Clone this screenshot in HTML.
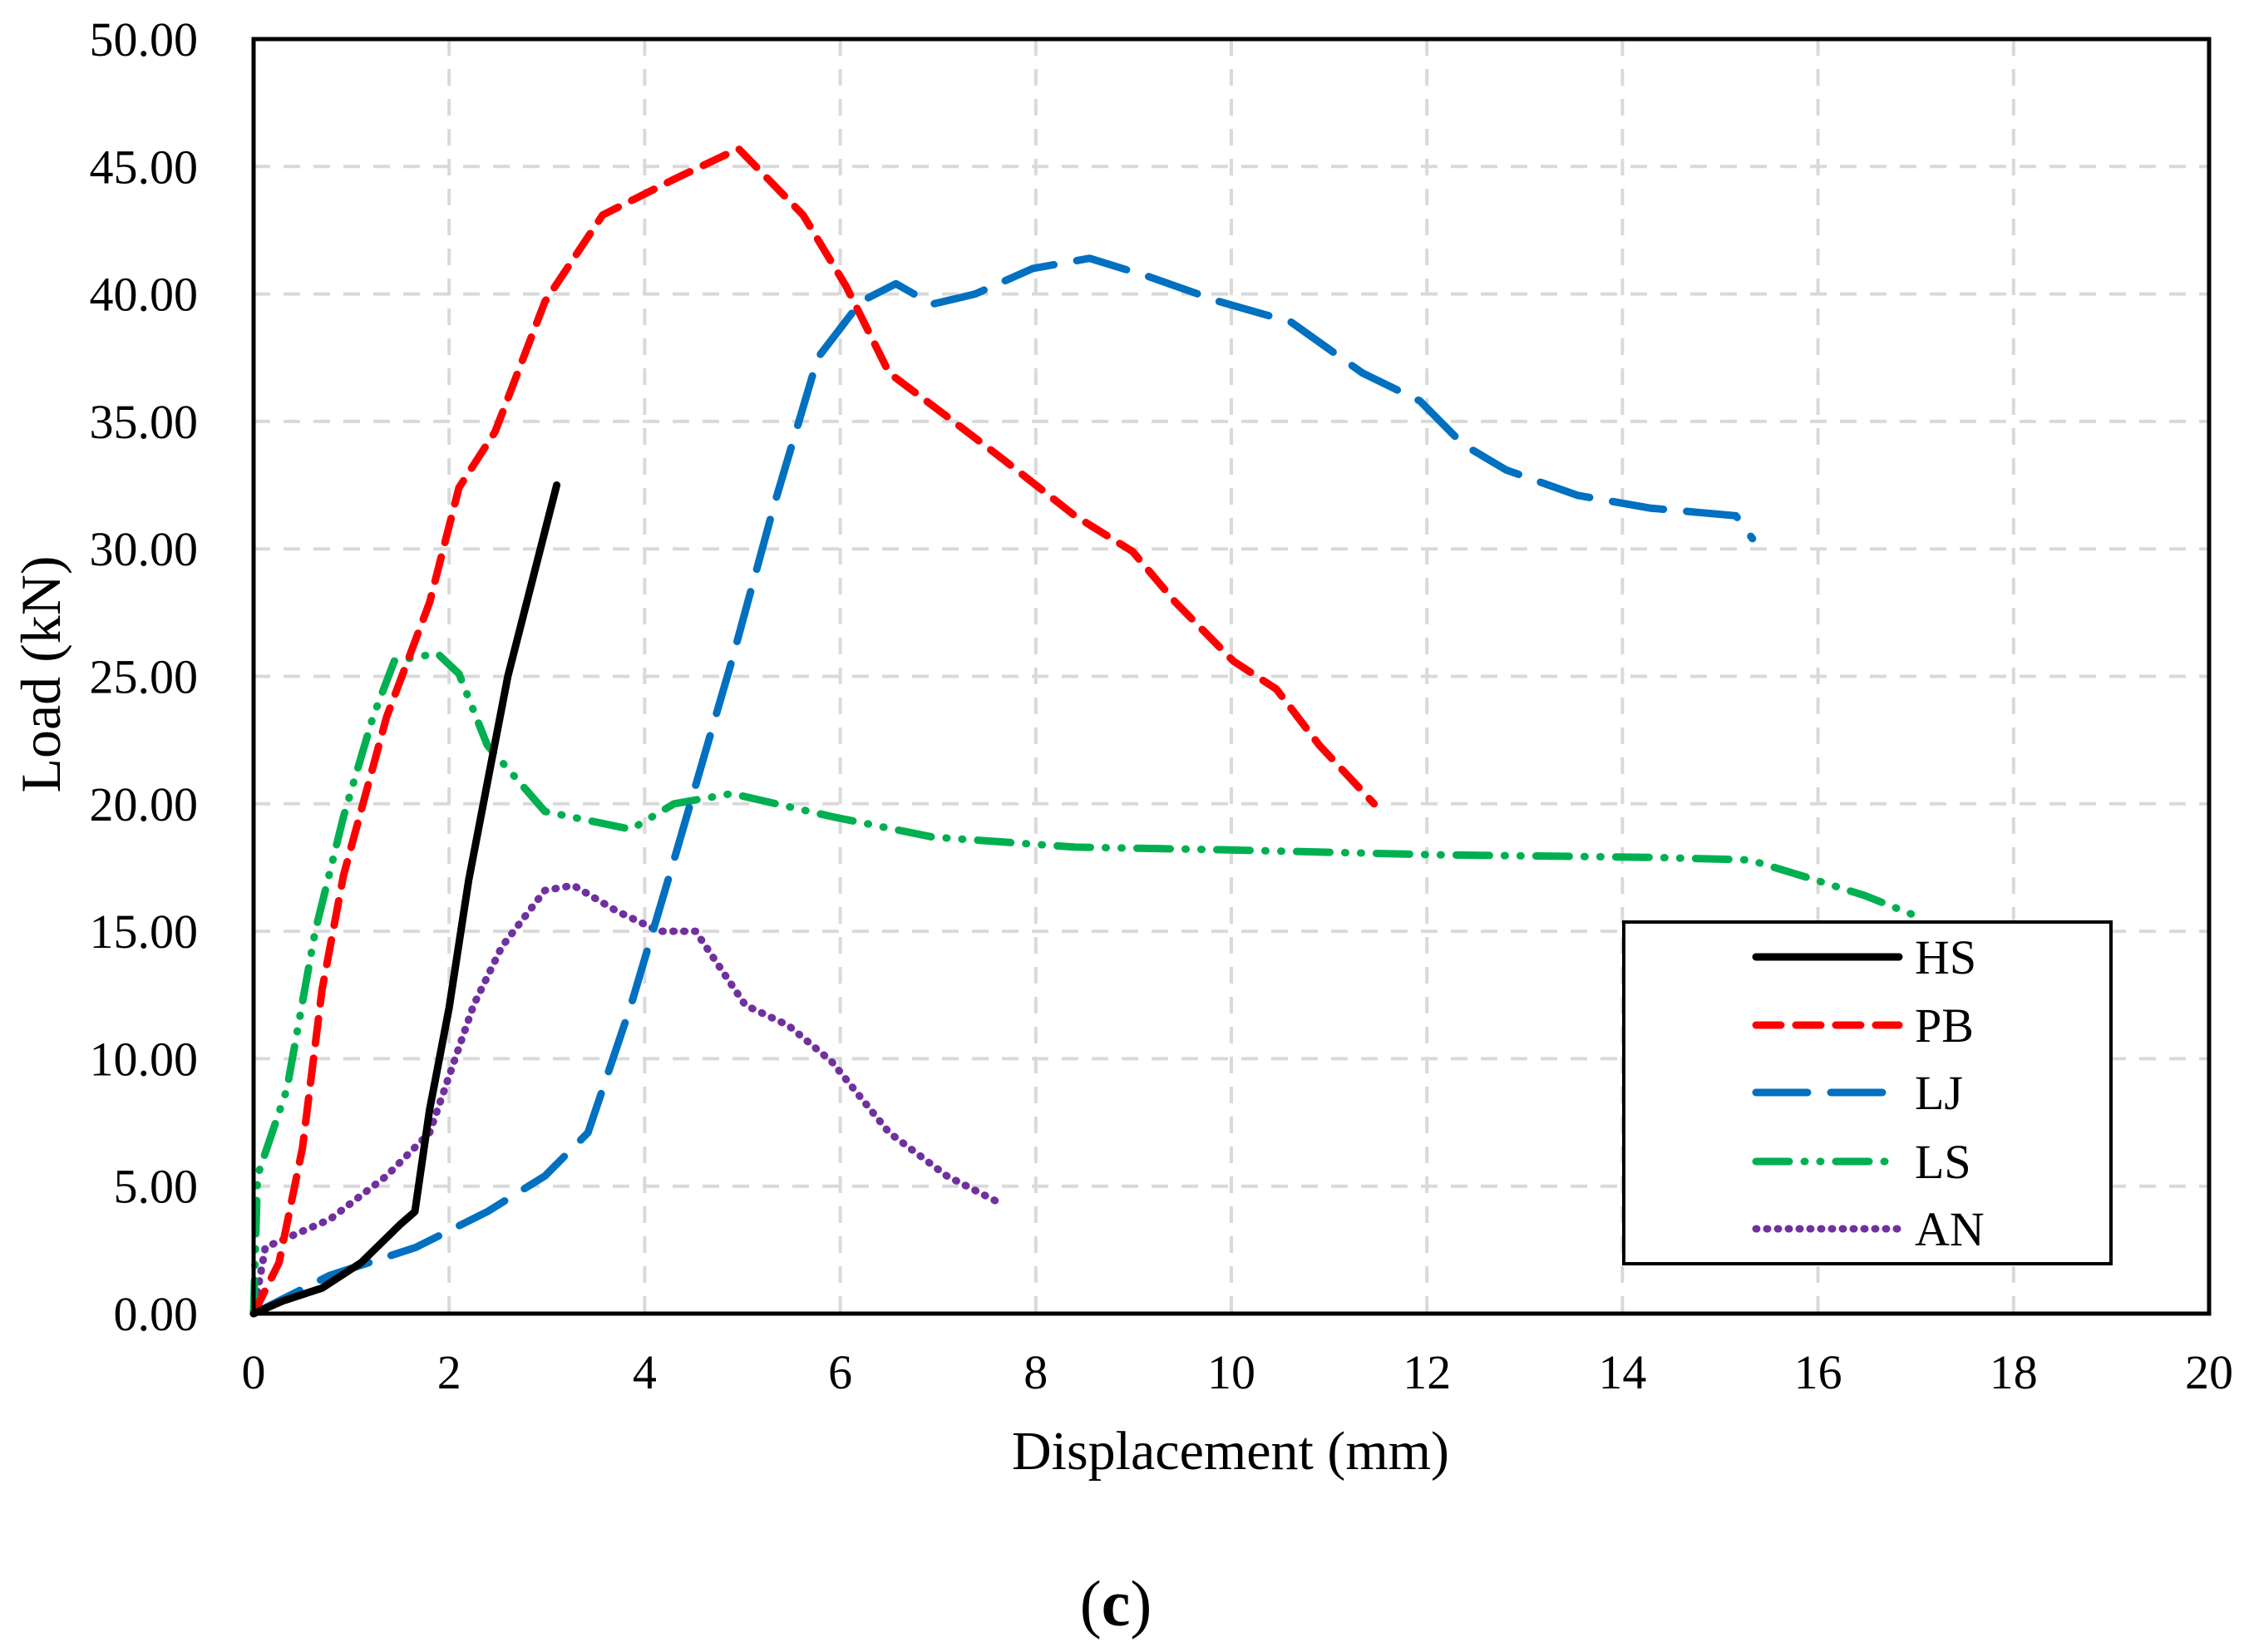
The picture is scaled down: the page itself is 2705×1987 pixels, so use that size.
<!DOCTYPE html>
<html><head><meta charset="utf-8"><style>
html,body{margin:0;padding:0;background:#fff;}
svg{display:block;font-family:"Liberation Serif",serif;}
</style></head><body>
<svg id="chart" width="2705" height="1987" viewBox="0 0 2705 1987" xmlns="http://www.w3.org/2000/svg">
<g id="grid"></g>
<g id="series"></g>
<rect x="305" y="47" width="2352" height="1533" fill="none" stroke="#000" stroke-width="5"/>
<g id="yticks" font-size="58" text-anchor="end"></g>
<g id="xticks" font-size="58" text-anchor="middle"></g>
<text x="1480" y="1767" font-size="66" text-anchor="middle">Displacement (mm)</text>
<text transform="translate(72,811) rotate(-90)" font-size="68" text-anchor="middle">Load (kN)</text>
<text x="1342" y="1955" font-size="78" text-anchor="middle">(<tspan font-weight="bold">c</tspan>)</text>
<g id="legend">
<rect x="1953" y="1109" width="586" height="411" fill="#fff" stroke="#000" stroke-width="4"/>
</g>
</svg>
<script>
const xTicks=[0,2,4,6,8,10,12,14,16,18,20];
const yTicks=[0,5,10,15,20,25,30,35,40,45,50];
const hsX=[0,0.3,0.7,1.1,1.5,1.65,1.8,2,2.2,2.4,2.6,2.8,3,3.1];
const hsY=[0,0.5,1,2,3.5,4,8,12,17,21,25,28,31,32.5];
const pbX=[0,0.26,0.5,0.7,0.92,1.36,1.8,2.1,2.47,2.98,3.57,4.3,4.96,5.62,6.06,6.5,7.09,7.67,8.4,8.99,9.43,10.02,10.46,10.9,11.46];
const pbY=[0,2,6.5,12.7,17.2,23.4,27.9,32.4,34.6,39.7,43.1,44.5,45.7,43.1,40.3,36.9,35.2,33.5,31.3,29.9,27.9,25.6,24.5,22.3,20];
const ljX=[0,0.78,1.66,2.39,2.98,3.42,3.86,4.3,4.89,5.33,5.77,6.21,6.57,6.94,7.38,7.97,8.55,9.14,9.88,10.61,11.34,11.93,12.37,12.81,13.54,14.28,15.16,15.33];
const ljY=[0,1.5,2.6,4,5.4,7.1,12.1,17.8,25.6,31.8,37.5,39.7,40.4,39.6,40,41,41.4,40.7,39.7,38.9,36.9,35.8,34.1,33.1,32.1,31.6,31.3,30.4];
const lsX=[0,0.04,0.34,0.63,0.92,1.22,1.44,1.88,2.1,2.39,2.98,3.86,4.3,4.89,5.91,6.94,8.4,9.88,12.08,14.28,15.3,15.9,16.48,17.07];
const lsY=[0,5.4,8.8,15,19.5,23.4,25.6,25.9,25.1,22.3,19.7,19,20,20.4,19.5,18.7,18.3,18.2,18,17.9,17.8,17.1,16.4,15.5];
const anX=[0,0.12,0.78,1.36,1.8,2.25,2.54,2.98,3.27,3.71,4.15,4.52,5.03,5.47,5.91,6.5,7.09,7.6];
const anY=[0,2.6,3.7,5.4,7.1,12.1,14.4,16.6,16.8,15.8,15,15,12.1,11.3,9.9,7.1,5.4,4.4];
const seriesNames=["HS","PB","LJ","LS","AN"];

const L=305,R=2657,T=47,B=1580;
const sx=v=>L+(v-0)/(20-0)*(R-L);
const sy=v=>B-(v-0)/(50-0)*(B-T);
const NS="http://www.w3.org/2000/svg";
function mk(tag,attrs,parent){const e=document.createElementNS(NS,tag);for(const k in attrs)e.setAttribute(k,attrs[k]);parent.appendChild(e);return e;}
const grid=document.getElementById('grid');
xTicks.forEach(t=>{if(t===0||t===20)return;
 const l=mk('line',{x1:sx(t),x2:sx(t),y1:T,y2:B,stroke:'#d9d9d9','stroke-width':4,'stroke-dasharray':'20 16'},grid);
 
 });
yTicks.forEach(t=>{if(t===0||t===50)return;
 const l=mk('line',{x1:L,x2:R,y1:sy(t),y2:sy(t),stroke:'#d9d9d9','stroke-width':4,'stroke-dasharray':'20 16'},grid);
 
 });
const yt=document.getElementById('yticks');
yTicks.forEach(t=>{const e=mk('text',{x:238,y:sy(t)+20},yt);e.textContent=t.toFixed(2);
 
 });
const xt=document.getElementById('xticks');
xTicks.forEach(t=>{const e=mk('text',{x:sx(t),y:1670},xt);e.textContent=String(t);
 
 });
const styles={
 HS:{stroke:'#000',dash:'none',cap:'round'},
 PB:{stroke:'#ff0000',dash:'30 18',cap:'round'},
 LJ:{stroke:'#0070c0',dash:'62 28',cap:'round'},
 LS:{stroke:'#00b050',dash:'40 18 1 18 1 18',cap:'round'},
 AN:{stroke:'#7030a0',dash:'1 12',cap:'round'}
};
const data={HS:[hsX,hsY],PB:[pbX,pbY],LJ:[ljX,ljY],LS:[lsX,lsY],AN:[anX,anY]};
const sg=document.getElementById('series');
["AN","LS","LJ","PB","HS"].forEach(n=>{const [xs,ys]=data[n];const s=styles[n];
 const d=xs.map((x,i)=>(i?'L':'M')+sx(x).toFixed(1)+' '+sy(ys[i]).toFixed(1)).join(' ');
 const p=mk('path',{d:d,fill:'none',stroke:s.stroke,'stroke-width':9,'stroke-dasharray':s.dash,'stroke-linecap':s.cap,'stroke-linejoin':'round'},sg);
 
 });
const lg=document.getElementById('legend');
const ly=[1151,1233,1314,1397,1478];
seriesNames.forEach((n,i)=>{const s=styles[n];
 const l=mk('line',{x1:2112,x2:2284,y1:ly[i],y2:ly[i],stroke:s.stroke,'stroke-width':9,'stroke-dasharray':s.dash,'stroke-linecap':s.cap},lg);
 
 
 const t=mk('text',{x:2303,y:ly[i]+20,'font-size':58},lg);t.textContent=n;
 
 });
</script>
</body></html>
